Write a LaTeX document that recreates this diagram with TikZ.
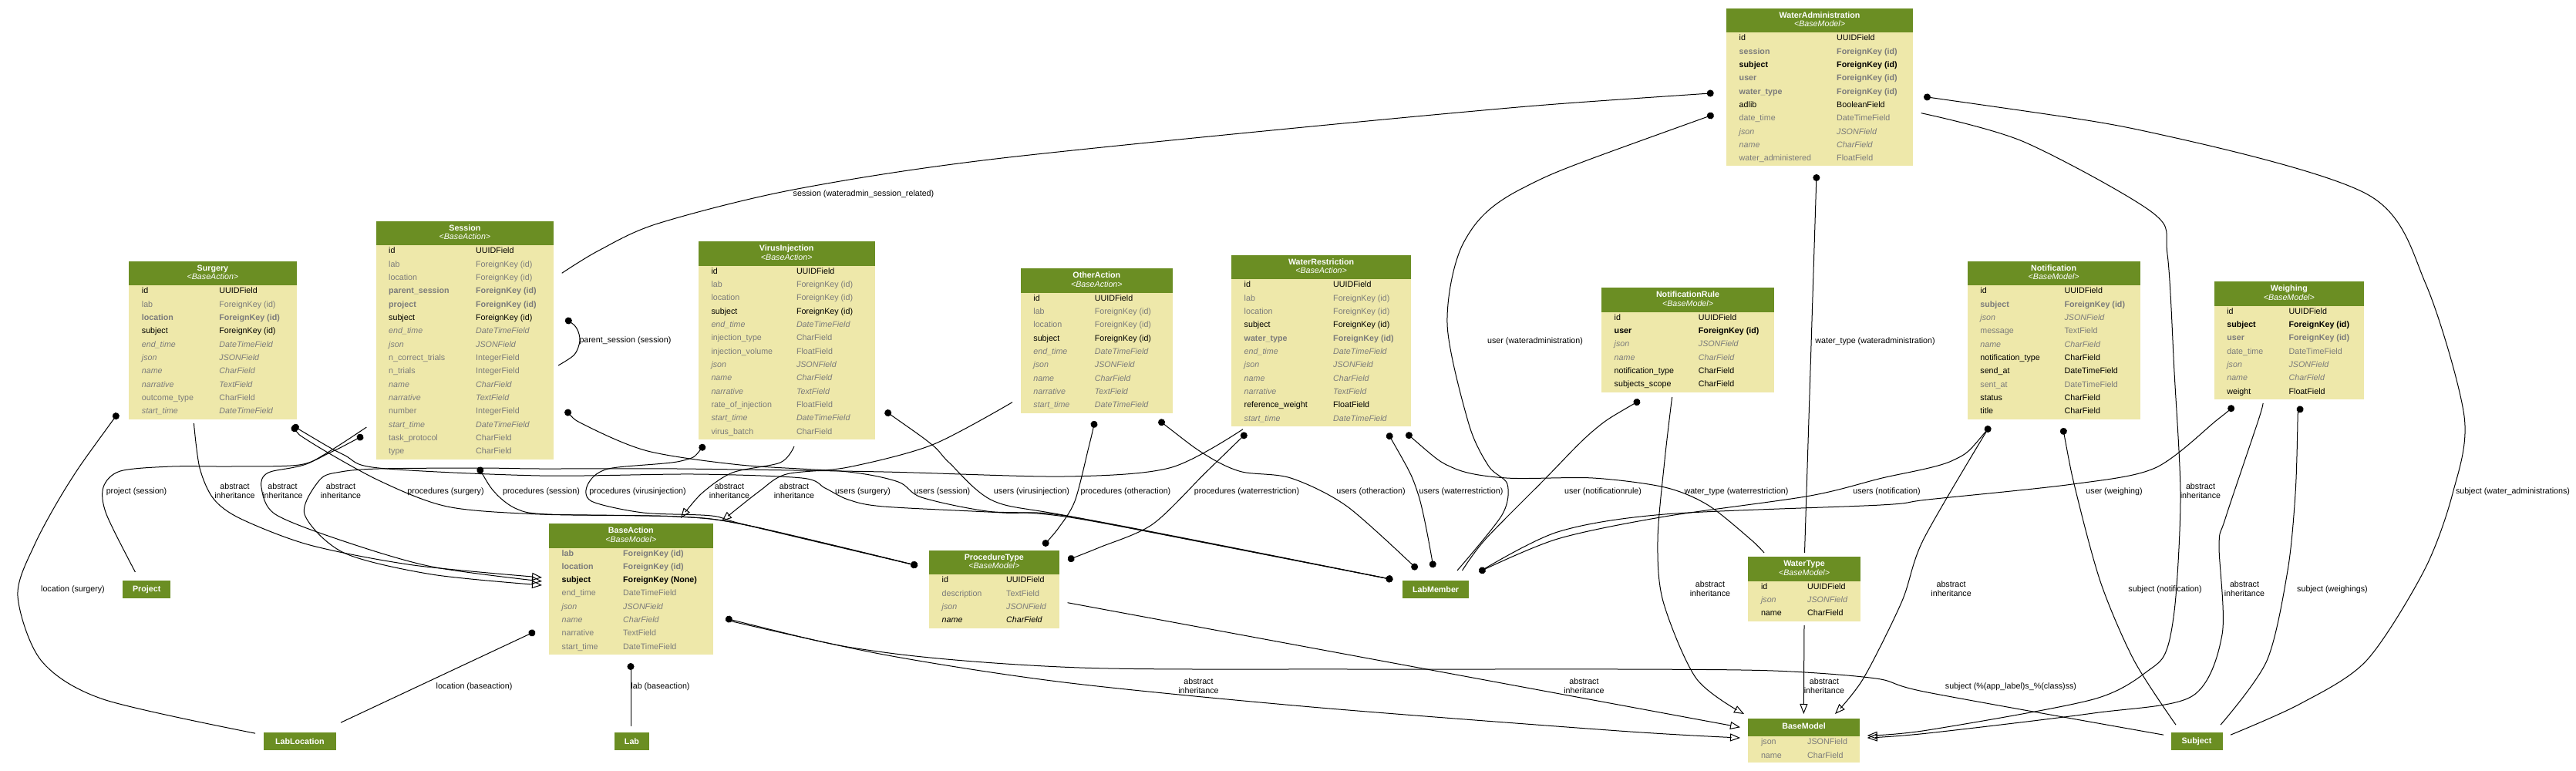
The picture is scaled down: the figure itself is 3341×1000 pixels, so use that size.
\documentclass[tikz,border=0pt]{standalone}
\usepackage{fontspec}
\setmainfont{Liberation Sans}
\usetikzlibrary{arrows.meta,calc}
\definecolor{hdrc}{RGB}{107,142,35}
\definecolor{bodyc}{RGB}{238,232,170}
\definecolor{greyt}{RGB}{123,123,123}
\newcommand\rfont{\fontsize{10.7pt}{12pt}\selectfont}
\newcommand\mtable[9]{%
 \node[tbl, minimum width=#4pt, minimum height=#5pt] (#1) at (#2,#3) {};
 \fill[hdrc] (#1.north west) rectangle ([yshift=-31.5pt]#1.north east);
 \node[ttl] (#1-t) at ([yshift=-12.5pt]#1.north) {#6};
 \node[tsb] (#1-s) at ([yshift=-24pt]#1.north) {\textless#7\textgreater};
 \foreach \xs/\xf/\xt [count=\xn] in {#9} {%
   \pgfmathsetmacro\yy{42+(\xn-1)*17.33}%
   \node[\xs] (#1-f\xn) at ([xshift=16.5pt,yshift=-\yy pt]#1.north west) {\xf};
   \node[\xs] (#1-c\xn) at ([xshift=#8pt,yshift=-\yy pt]#1.north west) {\xt};
 }%
}
\begin{document}
\begin{tikzpicture}[x=1pt,y=-1pt,
  tbl/.style={anchor=north west, fill=bodyc, inner sep=0, outer sep=0},
  ttl/.style={anchor=base, font=\rfont\bfseries, text=white, inner sep=0},
  tsb/.style={anchor=base, font=\rfont\itshape, text=white, inner sep=0},
  rb/.style={anchor=base west, inner sep=0, font=\rfont, text=black},
  rg/.style={anchor=base west, inner sep=0, font=\rfont, text=greyt},
  rB/.style={anchor=base west, inner sep=0, font=\rfont\bfseries, text=black},
  rG/.style={anchor=base west, inner sep=0, font=\rfont\bfseries, text=greyt},
  ri/.style={anchor=base west, inner sep=0, font=\rfont\itshape, text=greyt},
  rI/.style={anchor=base west, inner sep=0, font=\rfont\itshape, text=black},
  small/.style={fill=hdrc, text=white, font=\rfont\bfseries, inner sep=0, outer sep=0, minimum height=22.5pt},
  lbl/.style={font=\rfont, inner sep=0, anchor=base},
  lbl2/.style={font=\rfont, inner sep=0, align=center},
  ln/.style={line width=1pt},
  fk/.style={ln, {Circle[length=9pt]}-},
  mm/.style={ln, {Circle[length=9pt]}-{Circle[length=9pt]}},
  inh/.style={ln, -{Triangle[open,length=13pt,width=10pt]}},
]
\useasboundingbox (0,0) rectangle (3341,1000);
\fill[white] (0,0) rectangle (3341,1000);

% ---------------- tables ----------------
\mtable{wa}{2239}{10.7}{242}{204.8}{WaterAdministration}{BaseModel}{143}{rb/id/UUIDField, rG/session/ForeignKey (id), rB/subject/ForeignKey (id), rG/user/ForeignKey (id), rG/water\_type/ForeignKey (id), rb/adlib/BooleanField, rg/date\_time/DateTimeField, ri/json/JSONField, ri/name/CharField, rg/water\_administered/FloatField}
\mtable{surgery}{167.2}{338.7}{217.4}{204.8}{Surgery}{BaseAction}{117}{rb/id/UUIDField, rg/lab/ForeignKey (id), rG/location/ForeignKey (id), rb/subject/ForeignKey (id), ri/end\_time/DateTimeField, ri/json/JSONField, ri/name/CharField, ri/narrative/TextField, rg/outcome\_type/CharField, ri/start\_time/DateTimeField}
\mtable{session}{487.5}{287}{230.8}{308.8}{Session}{BaseAction}{129.5}{rb/id/UUIDField, rg/lab/ForeignKey (id), rg/location/ForeignKey (id), rG/parent\_session/ForeignKey (id), rG/project/ForeignKey (id), rb/subject/ForeignKey (id), ri/end\_time/DateTimeField, ri/json/JSONField, rg/n\_correct\_trials/IntegerField, rg/n\_trials/IntegerField, ri/name/CharField, ri/narrative/TextField, rg/number/IntegerField, ri/start\_time/DateTimeField, rg/task\_protocol/CharField, rg/type/CharField}
\mtable{vi}{905.8}{313.3}{228.8}{256.8}{VirusInjection}{BaseAction}{127}{rb/id/UUIDField, rg/lab/ForeignKey (id), rg/location/ForeignKey (id), rb/subject/ForeignKey (id), ri/end\_time/DateTimeField, rg/injection\_type/CharField, rg/injection\_volume/FloatField, ri/json/JSONField, ri/name/CharField, ri/narrative/TextField, rg/rate\_of\_injection/FloatField, ri/start\_time/DateTimeField, rg/virus\_batch/CharField}
\mtable{oa}{1323.7}{348.3}{197.3}{187.5}{OtherAction}{BaseAction}{96}{rb/id/UUIDField, rg/lab/ForeignKey (id), rg/location/ForeignKey (id), rb/subject/ForeignKey (id), ri/end\_time/DateTimeField, ri/json/JSONField, ri/name/CharField, ri/narrative/TextField, ri/start\_time/DateTimeField}
\mtable{wr}{1597}{330.7}{233.2}{222.1}{WaterRestriction}{BaseAction}{132}{rb/id/UUIDField, rg/lab/ForeignKey (id), rg/location/ForeignKey (id), rb/subject/ForeignKey (id), rG/water\_type/ForeignKey (id), ri/end\_time/DateTimeField, ri/json/JSONField, ri/name/CharField, ri/narrative/TextField, rb/reference\_weight/FloatField, ri/start\_time/DateTimeField}
\mtable{nr}{2077}{373.3}{224}{135.5}{NotificationRule}{BaseModel}{125.7}{rb/id/UUIDField, rB/user/ForeignKey (id), ri/json/JSONField, ri/name/CharField, rb/notification\_type/CharField, rb/subjects\_scope/CharField}
\mtable{notif}{2551.7}{338.7}{223.8}{204.8}{Notification}{BaseModel}{125.7}{rb/id/UUIDField, rG/subject/ForeignKey (id), ri/json/JSONField, rg/message/TextField, ri/name/CharField, rb/notification\_type/CharField, rb/send\_at/DateTimeField, rg/sent\_at/DateTimeField, rb/status/CharField, rb/title/CharField}
\mtable{weigh}{2871.6}{365.3}{194.4}{152.8}{Weighing}{BaseModel}{96.8}{rb/id/UUIDField, rB/subject/ForeignKey (id), rG/user/ForeignKey (id), rg/date\_time/DateTimeField, ri/json/JSONField, ri/name/CharField, rb/weight/FloatField}
\mtable{ba}{712}{679}{212.6}{170.1}{BaseAction}{BaseModel}{96}{rG/lab/ForeignKey (id), rG/location/ForeignKey (id), rB/subject/ForeignKey (None), rg/end\_time/DateTimeField, ri/json/JSONField, ri/name/CharField, rg/narrative/TextField, rg/start\_time/DateTimeField}
\mtable{pt}{1205}{713.7}{168.7}{100.8}{ProcedureType}{BaseModel}{100}{rb/id/UUIDField, rg/description/TextField, ri/json/JSONField, rI/name/CharField}
\mtable{wt}{2267.3}{722.3}{145.4}{83.5}{WaterType}{BaseModel}{76.7}{rb/id/UUIDField, ri/json/JSONField, rb/name/CharField}
% BaseModel
\node[tbl, minimum width=144.4pt, minimum height=56.7pt] (bm) at (2267.3,932.3) {};
\fill[hdrc] (bm.north west) rectangle ([yshift=-23pt]bm.north east);
\node[ttl] (bm-t) at ([yshift=-12.7pt]bm.north) {BaseModel};
\node[rg] (bm-f1) at ([xshift=16.5pt,yshift=-33.4pt]bm.north west) {json};
\node[rg] (bm-c1) at ([xshift=76.7pt,yshift=-33.4pt]bm.north west) {JSONField};
\node[rg] (bm-f2) at ([xshift=16.5pt,yshift=-50.7pt]bm.north west) {name};
\node[rg] (bm-c2) at ([xshift=76.7pt,yshift=-50.7pt]bm.north west) {CharField};

% small nodes
\node[small, minimum width=61.6pt] (project) at (190.2,764.5) {Project};
\node[small, minimum width=85.4pt] (labmember) at (1862.1,764.5) {LabMember};
\node[small, minimum width=93.7pt] (lablocation) at (388.9,961.4) {LabLocation};
\node[small, minimum width=45pt] (lab) at (819.5,961.4) {Lab};
\node[small, minimum width=67pt] (subject) at (2849,961.4) {Subject};

% ---------------- endpoints ----------------
\coordinate (e1a) at ($(surgery.north west)+(-14.2,197.3)$);
\coordinate (e1b) at ($(lablocation.north west)+(-11,1)$);
\coordinate (e2a) at ($(surgery.north west)+(84.2,210.3)$);
\coordinate (e2b) at ($(ba.north west)+(-9,70)$);
\coordinate (e3a) at ($(ba.north west)+(-18,140)$);
\coordinate (e3b) at ($(lablocation.north west)+(100,-13)$);
\coordinate (e4a) at ($(ba.north west)+(106,181)$);
\coordinate (e4b) at ($(lab.north west)+(21,-8)$);
\coordinate (e5a) at ($(ba.north west)+(229,123)$);
\coordinate (e5b) at ($(subject.north west)+(-9.5,3)$);
\coordinate (e6a) at ($(ba.north west)+(229,125)$);
\coordinate (e6b) at ($(bm.north west)+(-10.3,24.7)$);
\coordinate (e7a) at ($(pt.north west)+(179.6,68)$);
\coordinate (e7b) at ($(bm.north west)+(-10.3,11)$);
\coordinate (e8a) at ($(session.north west)+(246.2,126.3)$);
\coordinate (e8b) at ($(session.north west)+(236.5,187)$);
\coordinate (e9a) at ($(session.north west)+(-16.5,278)$);
\coordinate (e9b) at ($(project.north west)+(16,-11.3)$);
\coordinate (e10a) at ($(session.north west)+(-12.1,267)$);
\coordinate (e10b) at ($(ba.north west)+(-9,75)$);
\coordinate (e11a) at ($(session.north west)+(133,319)$);
\coordinate (ptl) at ($(pt.north west)+(-15,20)$);
\coordinate (lml) at ($(labmember.north west)+(-13,-1.5)$);
\coordinate (e12a) at ($(session.north west)+(246.1,244.7)$);
\coordinate (e13a) at ($(wa.north west)+(-16.3,110)$);
\coordinate (e13b) at ($(session.north west)+(241.2,67.3)$);
\coordinate (e14a) at ($(wa.north west)+(-16.4,137.8)$);
\coordinate (e14b) at ($(labmember.north west)+(70.6,-13.3)$);
\coordinate (e15a) at ($(wa.north west)+(117,215.3)$);
\coordinate (e15b) at ($(wt.north west)+(73.2,-5.3)$);
\coordinate (e16a) at ($(wa.north west)+(256,114.6)$);
\coordinate (e16b) at ($(subject.north west)+(77.5,3)$);
\coordinate (e17a) at ($(wa.north west)+(252.7,136)$);
\coordinate (e17b) at ($(bm.north west)+(154.4,21.7)$);
\coordinate (e18a) at ($(weigh.north west)+(63.4,157.7)$);
\coordinate (e18b) at ($(bm.north west)+(154.4,24.7)$);
\coordinate (e19a) at ($(weigh.north west)+(25.4,161.4)$);
\coordinate (lmr) at ($(labmember.north west)+(99,-11.5)$);
\coordinate (e20a) at ($(weigh.north west)+(107.4,163.7)$);
\coordinate (e20b) at ($(subject.north west)+(64.5,-10)$);
\coordinate (e21a) at ($(notif.north west)+(29.3,214.3)$);
\coordinate (e22a) at ($(notif.north west)+(27,217)$);
\coordinate (e22b) at ($(bm.north west)+(112.7,-6.3)$);
\coordinate (e23a) at ($(notif.north west)+(123.8,216.3)$);
\coordinate (e23b) at ($(subject.north west)+(6.5,-10)$);
\coordinate (e24a) at ($(nr.north west)+(49.8,146)$);
\coordinate (e24b) at ($(labmember.north west)+(77.1,-13.3)$);
\coordinate (e25a) at ($(nr.north west)+(91.6,141.7)$);
\coordinate (e25b) at ($(bm.north west)+(-5.3,-6.3)$);
\coordinate (e26a) at ($(wt.north west)+(72.7,88.7)$);
\coordinate (e26b) at ($(bm.north west)+(72,-6.3)$);
\coordinate (e27a) at ($(wr.north west)+(227,231)$);
\coordinate (e27b) at ($(wt.north west)+(20.7,-5.3)$);
\coordinate (e28a) at ($(wr.north west)+(203,231)$);
\coordinate (e28b) at ($(labmember.north west)+(39.6,-17)$);
\coordinate (e29a) at ($(wr.north west)+(19.5,231)$);
\coordinate (e29b) at ($(pt.north west)+(180,12.5)$);
\coordinate (e30a) at ($(wr.north west)+(15,226)$);
\coordinate (e30b) at ($(ba.north west)+(-9,80)$);
\coordinate (e31a) at ($(oa.north west)+(96.3,197.7)$);
\coordinate (e31b) at ($(pt.north west)+(148,-6)$);
\coordinate (e32a) at ($(oa.north west)+(179.3,196.7)$);
\coordinate (e32b) at ($(labmember.north west)+(18.5,-15)$);
\coordinate (e33a) at ($(oa.north west)+(-10.7,173.4)$);
\coordinate (e33b) at ($(ba.north west)+(224,-3)$);
\coordinate (e34a) at ($(vi.north west)+(7.8,263.4)$);
\coordinate (e35a) at ($(vi.north west)+(242.2,219.7)$);
\coordinate (e36a) at ($(vi.north west)+(124.2,265.7)$);
\coordinate (e36b) at ($(ba.north west)+(171,-7)$);
\coordinate (e37a) at ($(surgery.north west)+(212.4,213.3)$);

% ---------------- connectors ----------------
\draw[fk] plot[smooth] coordinates {(e1a) (89,627) (44.6,707) (23,773) (53.6,857) (134,907) (e1b)};
\draw[inh] plot[smooth] coordinates {(e2a) (259,607) (277,647) (312.5,673) (402,707) (536,733) (e2b)};
\draw[fk] (e3a) -- (e3b);
\draw[fk] (e4a) -- (e4b);
\draw[fk] plot[smooth] coordinates {(e5a) (1146,846) (1400,866) (1750,868) (2100,868) (2300,870) (2433,880) (2500,898) (e5b)};
\draw[inh] plot[smooth] coordinates {(e6a) (1146,849) (1380,885) (1701,917) (2100,948) (e6b)};
\draw[inh] (e7a) -- (e7b);
\draw[fk] plot[smooth] coordinates {(e8a) (748,426) (752,442) (745,460) (e8b)};
\draw[fk] plot[smooth] coordinates {(e9a) (428.6,586.7) (388,603) (300,605) (223,605) (156,611) (134,632) (138,667) (e9b)};
\draw[inh] plot[smooth] coordinates {(e10a) (402,600) (348,613) (339,632) (357,667) (446,702) (560,735) (e10b)};
\draw[mm] plot[smooth] coordinates {(e11a) (643,640) (670,660) (710,667) (878,670) (968,681) (ptl)};
\draw[mm] plot[smooth] coordinates {(e12a) (760,552) (840,585) (960,603) (1100,612) (1165,625) (1195,645) (1280,663) (1400,673) (lml)};
\draw[fk] plot[smooth] coordinates {(e13a) (1880,147) (1300,205) (1029,246) (853,290) (776.5,325) (e13b)};
\draw[fk] plot[smooth] coordinates {(e14a) (1973,245) (1898.6,314) (1877,420) (1905,550) (1931,605) (1955,628) (1948,668) (e14b)};
\draw[fk] (e15a) -- (e15b);
\draw[fk] plot[smooth] coordinates {(e16a) (2811,176.5) (3072,253) (3146,368) (3196,540) (3181,640) (3144,740) (3069,857) (2983,913) (e16b)};
\draw[inh] plot[smooth] coordinates {(e17a) (2625,184) (2792,276) (2811,330) (2820,483) (2828,640) (2822,773) (2811,840) (2790,867) (2715,907) (2500,947) (e17b)};
\draw[inh] plot[smooth] coordinates {(e18a) (2929,545) (2886,673) (2878,707) (2882,823) (2843,903) (2715,925) (2500,951) (e18b)};
\draw[fk] plot[smooth] coordinates {(e19a) (2875,545) (2795,607) (2688,628) (2500,648) (2439,655) (2159,667) (2020,690) (lmr)};
\draw[fk] plot[smooth] coordinates {(e20a) (2980,545) (2977,640) (2967,740) (2940,857) (e20b)};
\draw[mm] plot[smooth] coordinates {(e21a) (2532,597.5) (2439,620.5) (2345.5,643.4) (2159,670) (2020,699) (lmr)};
\draw[inh] plot[smooth] coordinates {(e22a) (2494.5,700) (2466.7,780) (2416.7,880) (e22b)};
\draw[fk] plot[smooth] coordinates {(e23a) (2693,640) (2725,757) (2768,857) (e23b)};
\draw[fk] plot[smooth] coordinates {(e24a) (2066,559) (2001,624) (1926,700) (e24b)};
\draw[inh] plot[smooth] coordinates {(e25a) (2159,597) (2150,700) (2157,780) (2200,880) (e25b)};
\draw[inh] (e26a) -- (e26b);
\draw[fk] plot[smooth] coordinates {(e27a) (1885,607) (1954,620) (2066,620) (2159,632) (2215,655) (2271,700) (e27b)};
\draw[mm] plot[smooth] coordinates {(e28a) (1839,640) (e28b)};
\draw[mm] plot[smooth] coordinates {(e29a) (1563.6,613) (1494.8,680) (1426,710) (e29b)};
\draw[inh] plot[smooth] coordinates {(e30a) (1517.7,606.7) (1380,618) (1146,612) (878.6,608) (700,608) (620.5,607) (491,608) (442,612) (415,622) (395,667) (446,717) (560,745) (e30b)};
\draw[mm] plot[smooth] coordinates {(e31a) (1412,580) (1394,650) (1372,686) (e31b)};
\draw[mm] plot[smooth] coordinates {(e32a) (1563.7,590) (1609.6,611.7) (1674,620) (1747,656.7) (e32b)};
\draw[inh] plot[smooth] coordinates {(e33a) (1209,577) (1100,606) (1020,615) (985,637) (e33b)};
\draw[mm] plot[smooth] coordinates {(e34a) (883,598) (789,608) (762.5,628) (767,650) (834,665) (923,669) (968,681) (ptl)};
\draw[mm] plot[smooth] coordinates {(e35a) (1209,577) (1231,600) (1289,650) (1400,672) (lml)};
\draw[inh] plot[smooth] coordinates {(e36a) (1012,600) (950,613) (910,640) (e36b)};
\draw[mm] plot[smooth] coordinates {(e37a) (402,573) (491,623) (580,657) (700,667) (878,670) (968,681) (ptl)};
\draw[mm] plot[smooth] coordinates {(e37a) (446,590) (491,607) (700,617) (900,615) (1040,620) (1070,633) (1100,648) (1146,657) (1300,665) (1400,672) (lml)};

% ---------------- labels ----------------
\node[lbl] (lb1) at (1120,255) {session (wateradmin\_session\_related)};
\node[lbl] (lb2) at (811,444) {parent\_session (session)};
\node[lbl] (lb3) at (1991,445) {user (wateradministration)};
\node[lbl] (lb4) at (2432,445) {water\_type (wateradministration)};
\node[lbl] (lb5) at (177,640) {project (session)};
\node[lbl] (lb6) at (578,640) {procedures (surgery)};
\node[lbl] (lb7) at (702,640) {procedures (session)};
\node[lbl] (lb8) at (827,640) {procedures (virusinjection)};
\node[lbl] (lb9) at (1119,640) {users (surgery)};
\node[lbl] (lb10) at (1222,640) {users (session)};
\node[lbl] (lb11) at (1338,640) {users (virusinjection)};
\node[lbl] (lb12) at (1460,640) {procedures (otheraction)};
\node[lbl] (lb13) at (1617,640) {procedures (waterrestriction)};
\node[lbl] (lb14) at (1778,640) {users (otheraction)};
\node[lbl] (lb15) at (1895,640) {users (waterrestriction)};
\node[lbl] (lb16) at (2079,640) {user (notificationrule)};
\node[lbl] (lb17) at (2252,640) {water\_type (waterrestriction)};
\node[lbl] (lb18) at (2447,640) {users (notification)};
\node[lbl] (lb19) at (2742,640) {user (weighing)};
\node[lbl] (lb20) at (3259,640) {subject (water\_administrations)};
\node[lbl] (lb21) at (94.5,767) {location (surgery)};
\node[lbl] (lb22) at (2808,767) {subject (notification)};
\node[lbl] (lb23) at (3025,767) {subject (weighings)};
\node[lbl] (lb24) at (615,893) {location (baseaction)};
\node[lbl] (lb25) at (856.5,893) {lab (baseaction)};
\node[lbl] (lb26) at (2608,893) {subject (\%(app\_label)s\_\%(class)ss)};
\node[lbl2] (la1) at (304.5,637) {abstract\\inheritance};
\node[lbl2] (la2) at (366.5,637) {abstract\\inheritance};
\node[lbl2] (la3) at (442,637) {abstract\\inheritance};
\node[lbl2] (la4) at (946,637) {abstract\\inheritance};
\node[lbl2] (la5) at (1030,637) {abstract\\inheritance};
\node[lbl2] (la6) at (2854,637) {abstract\\inheritance};
\node[lbl2] (la7) at (2218,764) {abstract\\inheritance};
\node[lbl2] (la8) at (2530.6,764) {abstract\\inheritance};
\node[lbl2] (la9) at (2911,764) {abstract\\inheritance};
\node[lbl2] (la10) at (1554.5,890) {abstract\\inheritance};
\node[lbl2] (la11) at (2054.5,890) {abstract\\inheritance};
\node[lbl2] (la12) at (2366,890) {abstract\\inheritance};
\end{tikzpicture}
\end{document}
